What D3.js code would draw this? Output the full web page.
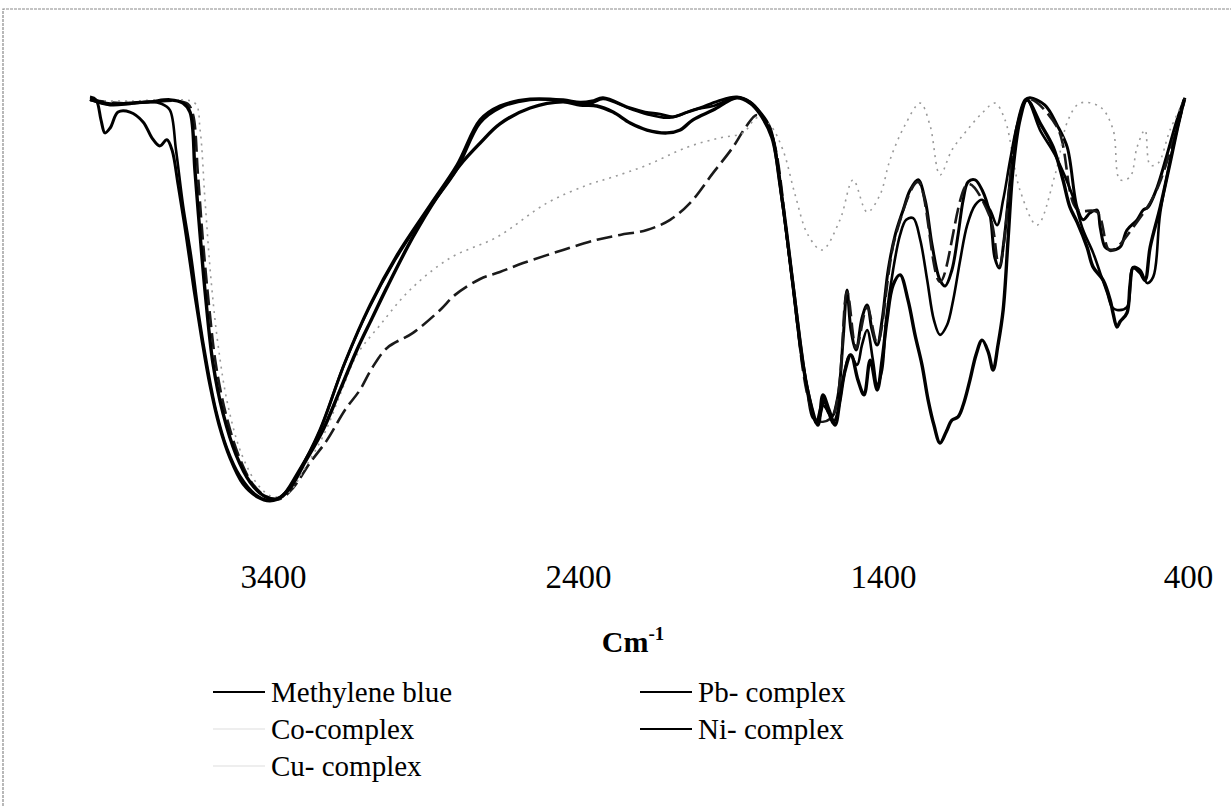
<!DOCTYPE html>
<html>
<head>
<meta charset="utf-8">
<script src="https://cdn.jsdelivr.net/npm/d3@7"></script>
<style>
  body { margin: 0; background: #fff; }
  text { font-family: "Liberation Serif", "Times New Roman", serif; }
</style>
</head>
<body>
<div id="chart"></div>
<script>
const w = 1231;
const h = 806;

// x ticks (wavenumber, cm-1)
const tickValues = [3400, 2400, 1400, 400];

// legend entries, two columns
const legendNames = ["Methylene blue", "Co-complex", "Cu- complex", "Pb- complex", "Ni- complex"];

// each series: [wavenumber, transmittance]
const methyleneBlue = [
  [4000,100],[3980,99.3],[3964,94.4],[3951,91.2],[3934,92.4],[3908,96.3],[3869,96.3],[3826,93.9],[3797,90.0],[3771,88.0],
  [3748,89.5],[3731,87.0],[3711,78.4],[3685,66.2],[3659,52.7],[3633,40.4],[3607,29.4],[3577,19.6],[3541,11.5],[3498,5.1],
  [3452,2.0],[3410,1.0],[3367,2.2],[3311,8.6],[3246,18.4],[3164,35.0],[3082,49.0],[2993,61.3],[2885,73.5],[2797,83.3],
  [2721,94.4],[2656,97.8],[2557,99.5],[2449,99.3],[2393,98.7],[2354,99.0],[2318,99.8],[2229,97.3],[2180,96.3],[2131,95.8],
  [2088,95.1],[2049,96.1],[2000,97.3],[1941,99.0],[1879,100],[1836,98.8],[1803,96.3],
  [1770,92.4],[1738,78.4],[1705,60.0],[1672,40.4],[1646,27.0],[1629,21.3],[1613,20.8],[1593,25.7],[1580,22.8],[1567,21.8],
  [1547,27.0],[1531,40.4],[1518,52.7],[1505,42.9],[1488,38.0],[1469,45.8],[1452,49.0],[1436,42.9],[1419,39.2],[1403,45.3],
  [1383,57.6],[1360,66.2],[1334,72.3],[1311,77.2],[1285,79.7],[1262,74.8],[1239,63.7],[1213,55.1],[1196,53.7],[1174,57.6],
  [1154,66.2],[1137,74.8],[1121,79.2],[1098,79.7],[1075,77.2],[1049,71.1],[1033,60.5],[1019,58.1],[1003,65.0],[983,79.7],
  [960,93.1],[934,99.3],[918,99.8],
  [869,98.0],[829,93.1],[796,87.7],[764,73.0],[744,69.9],[721,71.6],[698,72.3],[688,68.1],[672,63.2],[655,62.5],
  [623,63.2],[600,67.4],[567,69.9],[547,72.3],[531,73.0],[501,77.9],[469,85.8],[436,94.4],[410,99.8]
];

const coComplex = [
  [4000,99.3],[3902,98.5],[3803,98.8],[3711,99.0],[3679,98.3],[3662,95.6],[3646,80.9],[3630,65.0],[3610,49.0],[3587,34.3],
  [3554,22.1],[3511,11.8],[3466,5.1],[3420,2.0],[3377,1.5],[3334,4.2],[3279,10.3],[3223,15.9],[3164,23.3],[3115,28.2],
  [3075,33.6],[3026,38.5],[2941,42.2],[2852,47.8],[2803,51.5],[2721,55.4],[2656,57.1],[2580,59.3],[2449,62.5],[2338,65.0],
  [2262,66.2],[2174,67.4],[2098,69.9],[2033,74.0],[1957,81.4],[1892,87.7],[1852,92.4],[1813,95.6],
  [1770,91.9],[1705,59.6],[1646,26.5],[1613,20.6],[1567,21.6],[1518,52.2],[1488,38.5],[1452,48.5],[1419,39.7],[1360,65.7],
  [1285,79.2],[1213,54.7],[1121,78.7],[1049,70.6],[1019,58.6],[960,92.6],[924,99.5],[829,92.6],[764,72.5],[698,71.8],
  [655,62.3],[567,69.4],[501,77.5],[410,99.5]
];

const cuComplex = [
  [4000,99.0],[3869,99.0],[3738,99.3],[3656,98.5],[3639,91.9],[3623,74.8],[3603,55.1],[3580,39.2],[3548,24.5],[3502,12.3],
  [3449,4.9],[3400,2.0],[3351,2.9],[3295,9.1],[3229,17.9],[3174,28.2],[3125,36.8],[3049,44.1],[2951,52.7],[2820,60.5],
  [2665,65.7],[2502,74.0],[2370,78.4],[2285,80.4],[2174,83.3],[2042,87.7],[1934,90.0],[1859,91.2],[1813,94.9],
  [1770,93.1],[1728,87.0],[1688,76.0],[1646,66.2],[1600,62.5],[1541,69.9],[1498,79.7],[1452,71.8],[1410,76.0],[1377,84.6],
  [1328,93.1],[1278,98.5],[1246,93.1],[1213,80.9],[1174,87.0],[1124,91.9],[1072,96.3],[1033,98.5],[1000,94.4],[951,77.2],
  [895,68.6],[836,80.9],[793,94.4],[754,98.5],[688,97.6],[646,92.1],[623,79.7],[590,80.4],[567,87.7],[541,91.9],
  [524,83.3],[498,83.8],[459,91.9],[413,99.3]
];

const pbComplex = [
  [4000,99.5],[3934,98.3],[3869,98.5],[3803,98.8],[3738,99.3],[3695,98.5],[3672,96.3],[3656,82.1],[3639,66.2],[3620,50.2],
  [3597,34.8],[3564,22.5],[3521,12.3],[3475,5.6],[3429,2.2],[3387,1.5],[3344,4.2],[3295,10.5],[3236,18.4],[3180,28.2],
  [3125,38.0],[3075,45.8],[3026,53.4],[2941,65.7],[2862,75.5],[2787,83.3],[2721,88.7],[2656,93.4],[2557,97.3],[2449,98.8],
  [2393,98.0],[2338,97.8],[2285,96.3],[2229,93.6],[2174,91.9],[2108,91.2],[2065,91.9],[2023,94.4],[1957,96.8],[1879,99.8],
  [1836,98.5],[1803,95.8],
  [1764,90.0],[1728,73.5],[1695,53.9],[1662,34.3],[1636,24.5],[1613,19.6],[1597,27.0],[1577,23.3],[1557,19.6],[1541,25.7],
  [1524,33.1],[1505,36.8],[1482,30.6],[1462,27.0],[1442,35.5],[1419,28.2],[1403,35.5],[1387,45.3],[1367,53.9],[1344,56.4],
  [1318,50.2],[1295,41.7],[1272,34.3],[1252,25.7],[1233,19.6],[1213,15.2],[1193,17.9],[1174,20.8],[1154,21.6],[1137,24.5],
  [1115,30.6],[1095,36.8],[1075,40.4],[1055,37.5],[1039,33.1],[1023,39.2],[1006,47.8],[990,65.0],[974,82.1],[951,94.4],
  [928,99.3],
  [885,93.6],[842,87.7],[810,79.7],[787,73.0],[764,69.4],[731,63.2],[711,58.3],[678,55.1],[655,50.2],[646,47.1],
  [633,43.6],[623,44.9],[600,47.1],[590,53.9],[580,58.1],[557,56.9],[541,55.1],[524,63.2],[491,73.0],[459,83.8],
  [436,91.9],[413,99.3]
];

const niComplex = [
  [4000,99.3],[3934,98.0],[3869,98.3],[3803,98.8],[3764,98.3],[3738,96.8],[3718,87.0],[3695,73.5],[3669,61.3],[3643,46.6],
  [3616,34.3],[3587,23.3],[3551,14.0],[3508,7.1],[3459,2.7],[3416,1.2],[3374,2.0],[3318,8.1],[3252,17.2],[3170,33.8],
  [3088,47.8],[3000,60.0],[2892,72.3],[2798,82.1],[2721,93.6],[2656,97.3],[2557,99.3],[2449,99.0],[2393,98.3],[2354,98.5],
  [2318,99.5],[2229,97.1],[2174,95.8],[2108,94.9],[2065,95.6],[2023,96.8],[1957,97.8],[1879,99.8],[1836,98.8],[1803,96.1],
  [1764,90.7],[1731,74.8],[1698,55.1],[1665,35.5],[1639,25.7],[1619,20.1],[1600,24.5],[1583,23.3],[1564,20.1],[1547,23.3],
  [1531,30.6],[1508,36.8],[1485,34.3],[1469,39.2],[1452,42.9],[1433,35.5],[1419,29.4],[1403,33.1],[1390,45.3],[1367,57.6],
  [1344,66.2],[1324,69.9],[1301,70.3],[1278,65.0],[1255,55.1],[1233,45.3],[1213,41.7],[1190,44.1],[1170,50.2],[1147,60.0],
  [1124,68.6],[1098,73.5],[1075,74.8],[1049,72.3],[1026,68.6],[1006,74.8],[983,84.6],[960,93.1],[928,99.3],
  [885,91.9],[836,85.8],[777,75.5],[744,67.4],[711,61.8],[688,56.9],[665,52.0],[649,48.5],[633,47.8],[600,48.5],
  [580,58.3],[557,57.6],[534,54.4],[514,55.9],[491,71.6],[449,87.7],[413,99.3]
];

const series = [
  { name: legendNames[0], data: methyleneBlue, color: "#000", width: 3, dash: null },
  { name: legendNames[1], data: coComplex, color: "#1a1a1a", width: 2.6, dash: "16,6" },
  { name: legendNames[2], data: cuComplex, color: "#9a9a9a", width: 1.6, dash: "2,5" },
  { name: legendNames[3], data: pbComplex, color: "#000", width: 3.4, dash: null },
  { name: legendNames[4], data: niComplex, color: "#000", width: 2.6, dash: null }
];

var svg = d3.select("#chart")
    .append("svg")
    .attr("width", w)
    .attr("height", h);

// faint scan frame
svg.append("path")
    .attr("d", "M3,806 L3,9 L1231,9")
    .attr("fill", "none")
    .attr("stroke", "#8a8a8a")
    .attr("stroke-width", 1.2)
    .attr("stroke-dasharray", "3,1");

var x = d3.scaleLinear()
    .domain([4000, 400])
    .range([90, 1188]);

var y = d3.scaleLinear()
    .domain([0, 100])
    .range([505, 97]);

var line = d3.line()
    .x(function(d) { return x(d[0]); })
    .y(function(d) { return y(d[1]); })
    .curve(d3.curveCatmullRom.alpha(0.5));

svg.selectAll("path.spectrum")
    .data(series)
    .enter()
    .append("path")
    .attr("class", "spectrum")
    .attr("fill", "none")
    .attr("stroke", function(d) { return d.color; })
    .attr("stroke-width", function(d) { return d.width; })
    .attr("stroke-dasharray", function(d) { return d.dash; })
    .attr("stroke-linejoin", "round")
    .attr("d", function(d) { return line(d.data); });

// x axis: labels only, no line or ticks
var xAxis = svg.append("g")
    .attr("transform", "translate(0,565)")
    .call(d3.axisBottom(x).tickValues(tickValues).tickSize(0).tickPadding(0).tickFormat(d3.format("d")));

xAxis.select(".domain").remove();
xAxis.selectAll("text")
    .attr("dy", "0.71em")
    .attr("fill", "#000")
    .style("font-family", "'Liberation Serif', serif")
    .style("font-size", "33px");

var title = svg.append("text")
    .attr("x", 633)
    .attr("y", 652)
    .attr("text-anchor", "middle")
    .style("font-size", "30px")
    .style("font-weight", "bold");
title.append("tspan").text("Cm");
title.append("tspan")
    .attr("dy", -12)
    .style("font-size", "19px")
    .text("-1");

// legend
var legendX = [213, 640];
var legendY = [692, 729, 766];
var legendPos = [[0, 0], [0, 1], [0, 2], [1, 0], [1, 1]];

var legend = svg.selectAll("g.legend")
    .data(series)
    .enter()
    .append("g")
    .attr("class", "legend")
    .attr("transform", function(d, i) {
        return "translate(" + legendX[legendPos[i][0]] + "," + legendY[legendPos[i][1]] + ")";
    });

legend.append("line")
    .attr("x1", 0)
    .attr("x2", 52)
    .attr("stroke", function(d) { return d.dash ? "#eeeeee" : "#000"; })
    .attr("stroke-width", 2);

legend.append("text")
    .attr("x", 58)
    .attr("dy", "0.35em")
    .style("font-size", "29px")
    .text(function(d) { return d.name; });
</script>
</body>
</html>
